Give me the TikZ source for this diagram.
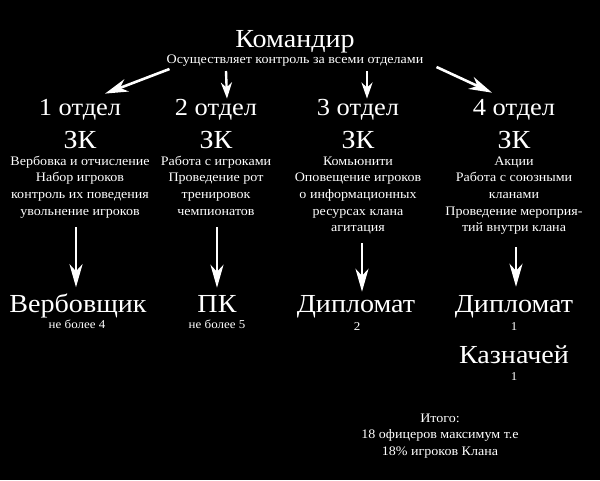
\documentclass[tikz,border=0pt]{standalone}
\usepackage{fontspec}
\setmainfont{Liberation Serif}[FakeStretch=1.08]
\usetikzlibrary{arrows.meta}
\newcommand{\fs}[2]{\fontsize{#1}{#2}\selectfont}
\tikzset{
  txt/.style={text=white, inner sep=0pt, anchor=base},
  big/.style={txt, font=\fs{26}{30}},
  mid/.style={txt, font=\fs{24.5}{28}},
  sub/.style={txt, font=\fs{13}{16}},
  small/.style={txt, font=\fs{12}{14}},
  body/.style={txt, font=\fs{13}{16.7}},
  arr/.style={draw=white, line width=2.6pt, -{Stealth[length=23pt, width=13pt, inset=7pt]}},
  arrs/.style={draw=white, line width=2.4pt, -{Stealth[length=16pt, width=11pt, inset=5pt]}},
}
\newcommand{\lines}[1]{\begin{tabular}[t]{@{}c@{}}#1\end{tabular}}
\begin{document}
\begin{tikzpicture}[x=1pt, y=-1pt]
\fill[black] (0,0) rectangle (600,480);
\useasboundingbox (0,0) rectangle (600,480);

\node[big] (cmd) at (295,47) {Командир};
\node[sub] (ctl) at (295,63) {Осуществляет контроль за всеми отделами};

\node[mid] (d1) at (80,115) {1 отдел};
\node[mid] (d2) at (216,115) {2 отдел};
\node[mid] (d3) at (358,115) {3 отдел};
\node[mid] (d4) at (514,115) {4 отдел};

\node[big] (z1) at (80,148) {ЗК};
\node[big] (z2) at (216,148) {ЗК};
\node[big] (z3) at (358,148) {ЗК};
\node[big] (z4) at (514,148) {ЗК};

\node[body] (b1) at (80,165) {\lines{Вербовка и отчисление\\Набор игроков\\контроль их поведения\\увольнение игроков}};
\node[body] (b2) at (216,165) {\lines{Работа с игроками\\Проведение рот\\тренировок\\чемпионатов}};
\node[body] (b3) at (358,165) {\lines{Комьюнити\\Оповещение игроков\\о информационных\\ресурсах клана\\агитация}};
\node[body] (b4) at (514,165) {\lines{Акции\\Работа с союзными\\кланами\\Проведение мероприя-\\тий внутри клана}};

\node[big] (r1) at (78,312) {Вербовщик};
\node[small] (n1) at (77,328) {не более 4};
\node[big] (r2) at (217,312) {ПК};
\node[small] (n2) at (217,328) {не более 5};
\node[big] (r3) at (356,312) {Дипломат};
\node[small] (n3) at (357,330) {2};
\node[big] (r4) at (514,312) {Дипломат};
\node[small] (n4) at (514,330) {1};
\node[big] (r5) at (514,363) {Казначей};
\node[small] (n5) at (514,380) {1};

\node[body] (tot) at (440,422) {\lines{Итого:\\18 офицеров максимум т.е\\18\% игроков Клана}};

% top arrows
\draw[arr] ([shift={(3,3)}]ctl.south west) -- ([shift={(25,-5)}]d1.north);
\draw[arrs] ([shift={(-69,5)}]ctl.south) -- ([shift={(11,0)}]d2.north);
\draw[arrs] ([shift={(72,5)}]ctl.south) -- ([shift={(9,0)}]d3.north);
\draw[arr] ([shift={(13,1)}]ctl.south east) -- ([shift={(-22,-6)}]d4.north);

% down arrows
\draw[arr] ([shift={(-4,7)}]b1.south) -- ([shift={(-2,-6)}]r1.north);
\draw[arr] ([shift={(1,7)}]b2.south) -- ([shift={(0,-7)}]r2.north);
\draw[arr] ([shift={(4,6)}]b3.south) -- ([shift={(6,-3)}]r3.north);
\draw[arr] ([shift={(2,10)}]b4.south) -- ([shift={(2,-8)}]r4.north);
\end{tikzpicture}
\end{document}
